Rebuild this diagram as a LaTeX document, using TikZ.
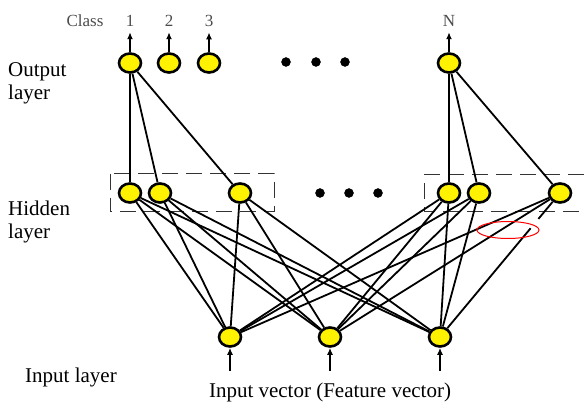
\documentclass[tikz,border=0pt]{standalone}
\usepackage{fontspec}
\setmainfont{Liberation Serif}
\usepackage{tikz}
\usetikzlibrary{calc}
\usetikzlibrary{arrows.meta}
\usetikzlibrary{shapes.geometric}
\tikzset{>={Latex[length=7pt,width=6pt]}}
\tikzset{neuron/.style={ellipse,draw=black,fill=yellow,line width=2.6pt,minimum width=22pt,minimum height=19pt,inner sep=0pt}}
\tikzset{layertext/.style={inner sep=0pt,align=left,font=\fontsize{21}{23}\selectfont}}
\tikzset{classtext/.style={inner sep=2pt,anchor=base,text=black!70,font=\fontsize{17}{17}\selectfont}}
\tikzset{link/.style={line width=1.8pt}}
\tikzset{hbox/.style={line width=1pt,dash pattern=on 16pt off 8pt,black!80}}

\begin{document}
\begin{tikzpicture}[x=1pt,y=-1pt]
			\useasboundingbox (0,0) rectangle (584,403);
			% output layer
			\node[neuron] (o1) at (130,63) {};
			\node[neuron] (o2) at (169,63) {};
			\node[neuron] (o3) at (209,63) {};
			\node[neuron] (oN) at (449,63) {};
			\node[classtext] (cl) at (85,27) {Class};
			\node[classtext] (c1) at (130,27) {1};
			\node[classtext] (c2) at (169,27) {2};
			\node[classtext] (c3) at (209,27) {3};
			\node[classtext] (cN) at (449,27) {N};
			\draw[line width=2pt,->,shorten >=3pt] (o1)--(c1);
			\draw[line width=2pt,->,shorten >=3pt] (o2)--(c2);
			\draw[line width=2pt,->,shorten >=3pt] (o3)--(c3);
			\draw[line width=2pt,->,shorten >=3pt] (oN)--(cN);
			\filldraw[black] (286,62) circle (4.5pt);
			\filldraw[black] (316,62) circle (4.5pt);
			\filldraw[black] (345,62) circle (4.5pt);
			% hidden layer
			\draw[hbox] (110,174) rectangle (274,212);
			\draw[hbox] (584,175) -- (424,175) -- (424,212) -- (584,212);
			\node[neuron] (h1) at (130,193) {};
			\node[neuron] (h2) at (160,193) {};
			\node[neuron] (h3) at (240,193) {};
			\node[neuron] (h4) at (449,193) {};
			\node[neuron] (h5) at (479,193) {};
			\node[neuron] (h6) at (560,193) {};
			\filldraw[black] (320,193) circle (4.5pt);
			\filldraw[black] (349,193) circle (4.5pt);
			\filldraw[black] (378,193) circle (4.5pt);
			% input layer
			\node[neuron] (i1) at (230,337) {};
			\node[neuron] (i2) at (330,337) {};
			\node[neuron] (i3) at (440,337) {};
			\coordinate (a1) at (230,371);
			\coordinate (a2) at (330,371);
			\coordinate (a3) at (440,371);
			\draw[line width=2pt,->] (a1)--(i1);
			\draw[line width=2pt,->] (a2)--(i2);
			\draw[line width=2pt,->] (a3)--(i3);
			% links
			\draw[link] (o1)--(h1); \draw[link] (o1)--(h2); \draw[link] (o1)--(h3);
			\draw[link] (oN)--(h4); \draw[link] (oN)--(h5); \draw[link] (oN)--(h6);
			\draw[link] (h1)--(i1); \draw[link] (h1)--(i2); \draw[link] (h1)--(i3);
			\draw[link] (h2)--(i1); \draw[link] (h2)--(i2); \draw[link] (h2)--(i3);
			\draw[link] (h3)--(i1); \draw[link] (h3)--(i2); \draw[link] (h3)--(i3);
			\draw[link] (h4)--(i1); \draw[link] (h4)--(i2); \draw[link] (h4)--(i3);
			\draw[link] (h5)--(i1); \draw[link] (h5)--(i2); \draw[link] (h5)--(i3);
			\draw[link] (h6)--(i1); \draw[link] (h6)--(i2);
			\draw[link] (h6)--($(h6)!0.18!(i3)$);
			\draw[link] ($(h6)!0.245!(i3)$)--(i3);
			\draw[red,line width=1pt] (508,230) ellipse (31pt and 8.5pt);
			% texts
			\node[layertext,anchor=north west] (out) at (8,62) {Output\\layer};
			\node[layertext,anchor=north west] (hid) at (8,201) {Hidden\\layer};
			\node[layertext,anchor=base west] (inp) at (25,383) {Input layer};
			\node[layertext,anchor=base] (vec) at (330,398) {Input vector (Feature vector)};
		\end{tikzpicture}
\end{document}
